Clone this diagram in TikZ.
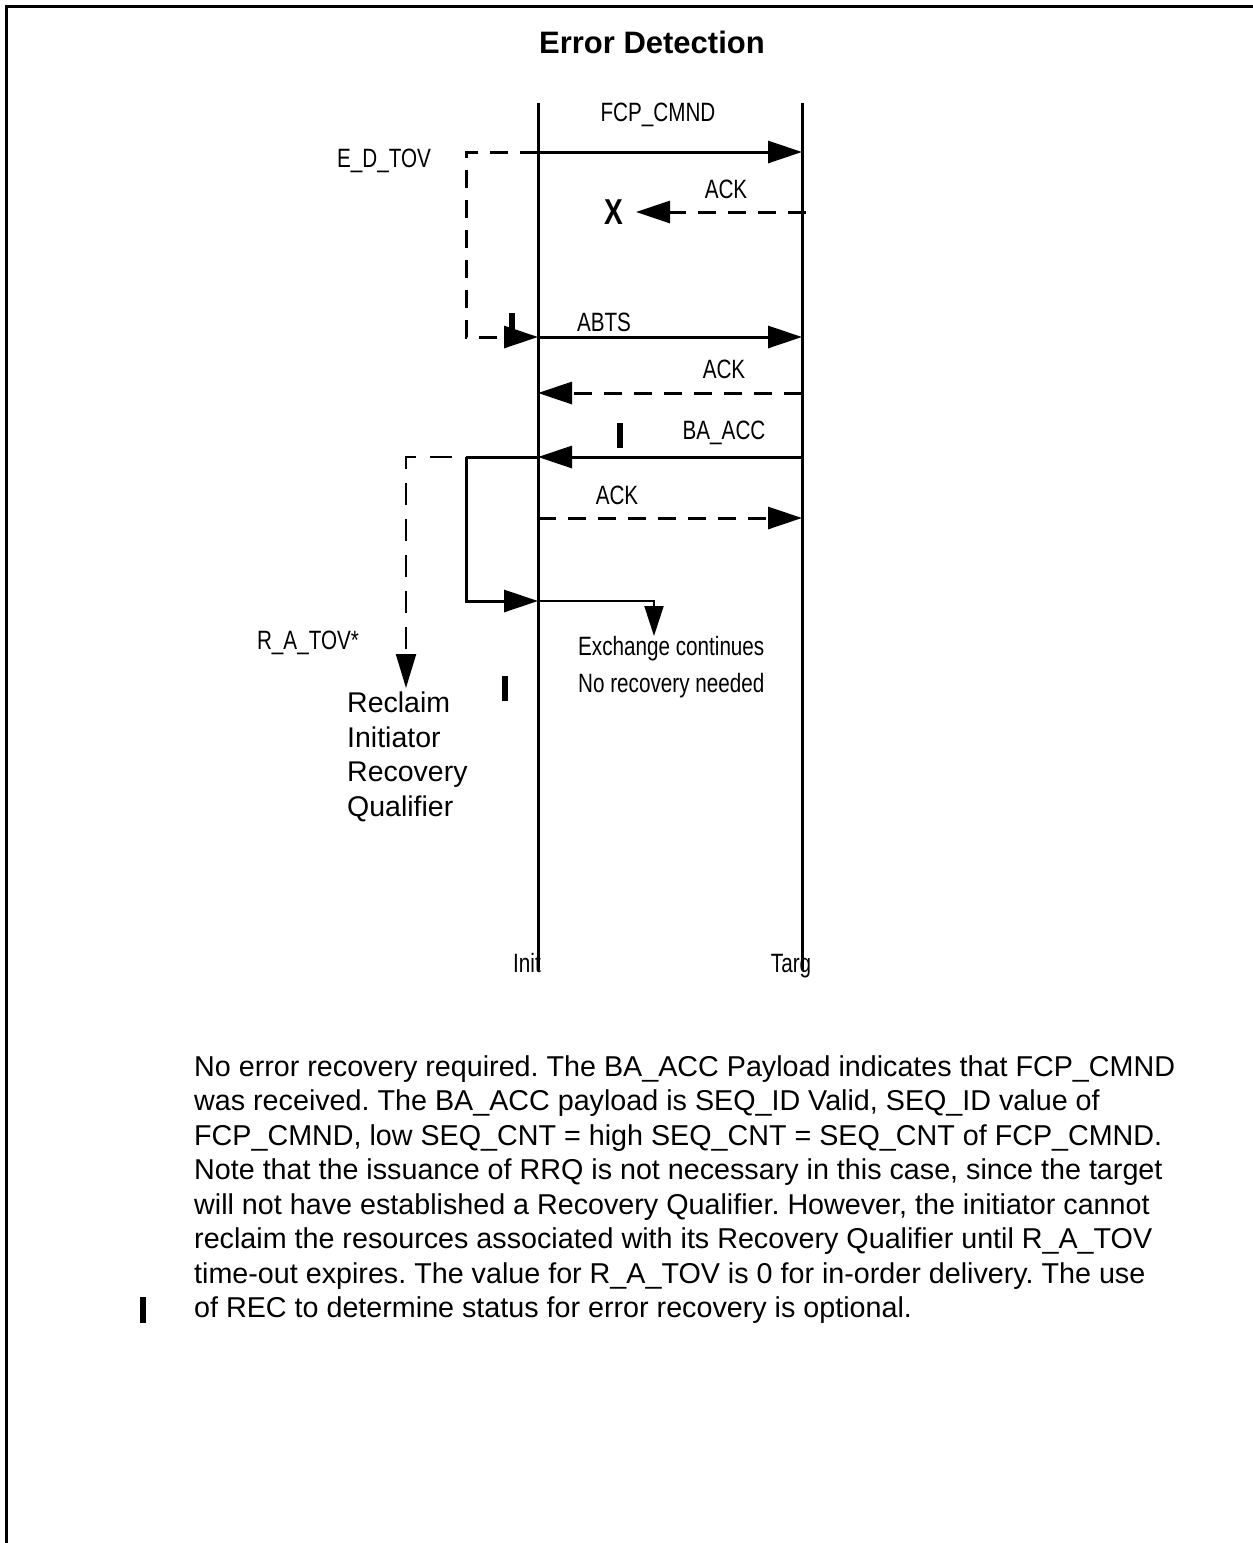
\documentclass[tikz,border=0pt]{standalone}
\usepackage{fontspec}
\setmainfont{Liberation Sans}
\newfontfamily\narrowfont[FakeStretch=0.78]{Liberation Sans}
\usetikzlibrary{arrows.meta}
\frenchspacing
\begin{document}
\begin{tikzpicture}[x=1pt,y=-1pt,
  lifeline/.style={line width=3pt},
  msg/.style={line width=3pt,-{Triangle[length=34pt,width=22pt]}},
  dmsg/.style={msg,dash pattern=on 18pt off 12pt},
  timerE/.style={msg,dash pattern=on 18pt off 12pt},
  timerR/.style={line width=2.2pt,dash pattern=on 22pt off 14pt,-{Triangle[length=34pt,width=20pt]}},
  thinmsg/.style={line width=2pt,-{Triangle[length=30pt,width=19pt]}},
  lbl/.style={font=\narrowfont\fontsize{26.5}{30}\selectfont,inner sep=0pt},
  xmark/.style={font=\narrowfont\bfseries\fontsize{36}{40}\selectfont,inner sep=0pt},
  bigtxt/.style={font=\fontsize{28.7}{34.5}\selectfont,inner sep=0pt,align=left},
  chbar/.style={fill=black}
]
\useasboundingbox (0,0) rectangle (1253,1543);
% frame
\coordinate (f1) at (6.5,1543);
\coordinate (f2) at (6.5,6.5);
\coordinate (f3) at (1253,6.5);
\draw[line width=3pt] (f1) -- (f2) -- (f3);
% title
\node[font=\bfseries\fontsize{31}{36}\selectfont,inner sep=0pt] (title) at (652,42) {Error Detection};
% lifelines
\coordinate (I0) at (538,103);
\coordinate (I1) at (538,970);
\coordinate (T0) at (802,103);
\coordinate (T1) at (802,970);
\draw[lifeline] (I0) -- (I1);
\draw[lifeline] (T0) -- (T1);
\node[lbl,anchor=base] (init) at (527,972) {Init};
\node[lbl,anchor=base] (targ) at (791,972) {Targ};
% FCP_CMND
\coordinate (iF) at (538,152);
\coordinate (tF) at (802,152);
\draw[msg] (iF) -- (tF);
\node[lbl] (lF) at (658,115) {FCP\_CMND};
% E_D_TOV timer
\coordinate (eA) at (466,152);
\coordinate (eB) at (466,337);
\coordinate (iA) at (538,337);
\coordinate (tA) at (802,337);
\draw[timerE] (iF) -- (eA) -- (eB) -- (iA);
\node[lbl] (lE) at (384,161) {E\_D\_TOV};
% lost ACK
\coordinate (tK) at (806,212);
\coordinate (xK) at (636,212);
\draw[dmsg] (tK) -- (xK);
\node[xmark] (X) at (614,212) {X};
\node[lbl] (lK) at (726,189) {ACK};
% ABTS
\draw[msg] (iA) -- (tA);
\node[lbl] (lA) at (604,322) {ABTS};
% ACK
\coordinate (tB) at (802,393);
\coordinate (iB) at (538,393);
\draw[dmsg] (tB) -- (iB);
\node[lbl] (lB) at (724,369) {ACK};
% BA_ACC
\coordinate (tC) at (802,457);
\coordinate (iC) at (538,457);
\draw[msg] (tC) -- (iC);
\node[lbl] (lC) at (724,433) {BA\_ACC};
% branch
\coordinate (bA) at (466,457);
\coordinate (bB) at (466,601);
\coordinate (iD) at (538,601);
\draw[line width=3pt] (iC) -- (bA);
\draw[msg] (bA) -- (bB) -- (iD);
% R_A_TOV timer
\coordinate (rA) at (406,457);
\coordinate (rB) at (406,688);
\draw[timerR,dash phase=22pt] (bA) -- (rA) -- (rB);
\node[lbl] (lR) at (308,643) {R\_A\_TOV*};
% ACK to target
\coordinate (iE) at (538,518);
\coordinate (tE) at (802,518);
\draw[dmsg] (iE) -- (tE);
\node[lbl] (lAck3) at (617,495) {ACK};
% exchange continues
\coordinate (eX) at (654,601);
\coordinate (eY) at (654,636);
\draw[thinmsg] (iD) -- (eX) -- (eY);
\node[lbl,anchor=west] (ex1) at (578,649) {Exchange continues};
\node[lbl,anchor=west] (ex2) at (578,686) {No recovery needed};
% reclaim
\node[bigtxt,font=\fontsize{28.5}{34.5}\selectfont,anchor=north west] (recl) at (347,692) {Reclaim\\Initiator\\Recovery\\Qualifier};
% change bars
\fill[chbar] (509,313) rectangle (515,336);
\fill[chbar] (617,423) rectangle (623,448);
\fill[chbar] (502,676) rectangle (508,701);
\fill[chbar] (140,1297) rectangle (146,1323);
% paragraph
\node[bigtxt,anchor=north west] (para) at (194,1055) {No error recovery required. The BA\_ACC Payload indicates that FCP\_CMND\\
was received. The BA\_ACC payload is SEQ\_ID Valid, SEQ\_ID value of\\
FCP\_CMND, low SEQ\_CNT = high SEQ\_CNT = SEQ\_CNT of FCP\_CMND.\\
Note that the issuance of RRQ is not necessary in this case, since the target\\
will not have established a Recovery Qualifier. However, the initiator cannot\\
reclaim the resources associated with its Recovery Qualifier until R\_A\_TOV\\
time-out expires. The value for R\_A\_TOV is 0 for in-order delivery. The use\\
of REC to determine status for error recovery is optional.};
\end{tikzpicture}
\end{document}
